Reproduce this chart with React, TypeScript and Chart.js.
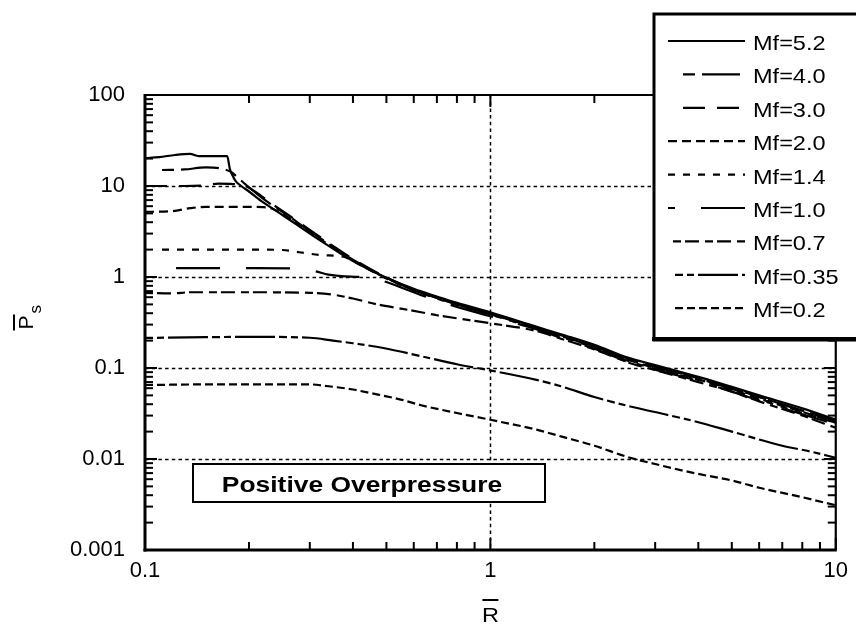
import React, { useEffect, useRef } from "react";
import { Chart, registerables } from "chart.js";

Chart.register(...registerables);

// ---------------- data ----------------
const seriesNames = ["Mf=5.2", "Mf=4.0", "Mf=3.0", "Mf=2.0", "Mf=1.4", "Mf=1.0", "Mf=0.7", "Mf=0.35", "Mf=0.2"];

const mf52: [number, number][] = [
  [0.1, 20.3], [0.11, 20.8], [0.122, 21.9], [0.135, 22.5], [0.143, 21.3], [0.173, 21.3], [0.176, 15.5],
  [0.179, 13.2], [0.183, 11.3], [0.19, 10], [0.2, 8.7], [0.22, 6.6], [0.25, 4.8], [0.3, 3.0], [0.35, 2.05],
  [0.4, 1.5], [0.5, 0.98], [0.6, 0.74], [0.7, 0.61], [0.8, 0.52], [1, 0.41], [1.3, 0.3], [1.6, 0.235],
  [2, 0.18], [2.5, 0.13], [3, 0.108], [4, 0.08], [5, 0.062], [6, 0.05], [8, 0.036], [10, 0.027],
];
const mf40: [number, number][] = [
  [0.112, 15], [0.13, 15.2], [0.15, 16], [0.165, 15.6], [0.178, 14.2], [0.185, 12.5], [0.195, 10.5],
  [0.21, 8.3], [0.23, 6.4], [0.25, 5.2], [0.3, 3.2], [0.35, 2.15], [0.4, 1.55], [0.5, 0.98], [0.6, 0.72],
  [0.7, 0.59], [0.8, 0.5], [1, 0.39], [1.3, 0.29], [1.6, 0.225], [2, 0.172], [2.5, 0.125], [3, 0.103],
  [4, 0.077], [5, 0.059], [6, 0.048], [8, 0.034], [10, 0.026],
];
const mf30: [number, number][] = [
  [0.1, 10], [0.13, 10], [0.15, 10.2], [0.163, 10.6], [0.18, 10.5], [0.195, 10], [0.21, 8.5], [0.23, 6.6],
  [0.26, 4.8], [0.3, 3.3], [0.35, 2.2], [0.4, 1.58], [0.5, 0.99], [0.6, 0.73], [0.7, 0.6], [0.8, 0.51],
  [1, 0.4], [1.3, 0.295], [1.6, 0.23], [2, 0.175], [2.5, 0.127], [3, 0.105], [4, 0.078], [5, 0.06],
  [6, 0.048], [8, 0.034], [10, 0.026],
];
const mf20: [number, number][] = [
  [0.1, 5.2], [0.12, 5.3], [0.135, 5.7], [0.15, 5.9], [0.2, 5.9], [0.22, 5.85], [0.235, 5.6], [0.25, 4.95],
  [0.3, 3.1], [0.35, 2.1], [0.4, 1.52], [0.5, 0.97], [0.6, 0.72], [0.7, 0.59], [0.8, 0.5], [1, 0.39],
  [1.3, 0.29], [1.6, 0.225], [2, 0.17], [2.5, 0.123], [3, 0.1], [4, 0.075], [5, 0.058], [6, 0.046],
  [8, 0.033], [10, 0.025],
];
const mf14: [number, number][] = [
  [0.112, 2.0], [0.15, 2.0], [0.2, 2.0], [0.25, 1.98], [0.28, 1.87], [0.32, 1.75], [0.38, 1.65], [0.4, 1.5],
  [0.5, 0.96], [0.6, 0.71], [0.7, 0.58], [0.8, 0.49], [1, 0.385], [1.3, 0.285], [1.6, 0.22], [2, 0.168],
  [2.5, 0.12], [3, 0.098], [4, 0.074], [5, 0.057], [6, 0.045], [8, 0.032], [10, 0.025],
];
const mf10: [number, number][] = [
  [0.123, 1.25], [0.2, 1.25], [0.28, 1.24], [0.31, 1.16], [0.34, 1.06], [0.37, 1.02], [0.42, 1.0],
  [0.47, 0.95], [0.5, 0.88], [0.64, 0.62], [0.8, 0.47], [1, 0.37], [1.3, 0.28], [1.6, 0.215], [2, 0.163],
  [2.5, 0.117], [3, 0.096], [4, 0.072], [5, 0.055], [6, 0.044], [8, 0.031], [10, 0.024],
];
const mf07: [number, number][] = [
  [0.1, 0.67], [0.12, 0.66], [0.135, 0.68], [0.2, 0.68], [0.3, 0.67], [0.35, 0.64], [0.4, 0.58],
  [0.47, 0.5], [0.55, 0.45], [0.63, 0.41], [0.7, 0.38], [0.85, 0.34], [1, 0.31], [1.36, 0.255],
  [1.6, 0.21], [2, 0.16], [2.6, 0.11], [3, 0.095], [4, 0.07], [5, 0.055], [6, 0.043], [8, 0.03], [10, 0.022],
];
const mf035: [number, number][] = [
  [0.1, 0.214], [0.15, 0.218], [0.2, 0.22], [0.3, 0.215], [0.35, 0.2], [0.4, 0.187], [0.49, 0.166],
  [0.645, 0.132], [0.8, 0.11], [1, 0.094], [1.36, 0.074], [1.6, 0.063], [2, 0.048], [2.6, 0.037],
  [3.2, 0.031], [3.9, 0.026], [5, 0.02], [7, 0.014], [8.5, 0.012], [10, 0.0103],
];
const mf02: [number, number][] = [
  [0.1, 0.065], [0.15, 0.066], [0.2, 0.066], [0.3, 0.066], [0.34, 0.063], [0.4, 0.058], [0.45, 0.053],
  [0.55, 0.045], [0.63, 0.039], [0.8, 0.032], [1, 0.027], [1.36, 0.021], [1.62, 0.0175], [2, 0.014],
  [2.5, 0.0105], [3, 0.0088], [3.89, 0.007], [5, 0.0058], [6.05, 0.0048], [8, 0.0038], [10, 0.0031],
];
const seriesData = [mf52, mf40, mf30, mf20, mf14, mf10, mf07, mf035, mf02];

const xTickValues = [0.1, 1, 10];
const xTickLabels = ["0.1", "1", "10"];
const yTickValues = [0.001, 0.01, 0.1, 1, 10, 100];
const yTickLabels = ["0.001", "0.01", "0.1", "1", "10", "100"];
const xGridValues = [1];
const yGridValues = [0.01, 0.1, 1, 10];
const minorMultipliers = [2, 3, 4, 5, 6, 7, 8, 9];
const boxText = "Positive Overpressure";
const xTitle = "R";
const yTitle = "P";
const yTitleSub = "s";

// ---------------- styles ----------------
const FONT = "'Liberation Sans', Arial, Helvetica, sans-serif";
const dashes: number[][] = [[], [12, 7, 38, 7], [22, 12], [9, 5], [7, 8], [44, 26], [8, 4, 14, 6], [8, 4, 7, 4, 40, 4], [8, 4]];
const legendStartX = [668, 683, 683, 668, 668, 668, 673, 675, 675];
const legendOffsets = [0, 0, 0, 0, 0, 37, 0, 0, 0];

function stretchText(ctx: CanvasRenderingContext2D, text: string, x: number, y: number, sx: number, align: CanvasTextAlign) {
  ctx.save();
  ctx.translate(x, y);
  ctx.scale(sx, 1);
  ctx.textAlign = align;
  ctx.textBaseline = "alphabetic";
  ctx.fillText(text, 0, 0);
  ctx.restore();
}

function seg(ctx: CanvasRenderingContext2D, x1: number, y1: number, x2: number, y2: number) {
  ctx.beginPath();
  ctx.moveTo(x1, y1);
  ctx.lineTo(x2, y2);
  ctx.stroke();
}

const decoPlugin = {
  id: "deco",
  beforeDatasetsDraw(chart: any) {
    const { ctx, chartArea: a, scales } = chart;
    const x = scales.x, y = scales.y;
    ctx.save();
    ctx.strokeStyle = "#000";
    ctx.lineWidth = 1.5;
    ctx.setLineDash([3.5, 3.2]);
    for (const v of yGridValues) {
      const py = Math.round(y.getPixelForValue(v)) + 0.5;
      seg(ctx, a.left, py, a.right, py);
    }
    for (const v of xGridValues) {
      const px = Math.round(x.getPixelForValue(v)) + 0.5;
      seg(ctx, px, a.top, px, a.bottom);
    }
    ctx.restore();
  },
  afterDatasetsDraw(chart: any) {
    const { ctx, chartArea: a, scales } = chart;
    const x = scales.x, y = scales.y;
    ctx.save();
    ctx.strokeStyle = "#000";
    ctx.setLineDash([]);
    ctx.lineWidth = 2;
    const majorLen = 12, minorLen = 8;
    for (const d of xTickValues) {
      for (const m of [1, ...minorMultipliers]) {
        const v = d * m;
        if (v < 0.1 - 1e-9 || v > 10 + 1e-9) continue;
        const px = x.getPixelForValue(v);
        const len = m === 1 ? majorLen : minorLen;
        seg(ctx, px, a.bottom, px, a.bottom - len);
        seg(ctx, px, a.top, px, a.top + len);
      }
    }
    for (const d of yTickValues) {
      for (const m of [1, ...minorMultipliers]) {
        const v = d * m;
        if (v < 0.001 - 1e-12 || v > 100 + 1e-9) continue;
        const py = y.getPixelForValue(v);
        const len = m === 1 ? majorLen : minorLen;
        seg(ctx, a.left, py, a.left + len, py);
        seg(ctx, a.right, py, a.right - len, py);
      }
    }
    ctx.lineWidth = 3;
    seg(ctx, a.left, a.top - 1, a.left, a.bottom + 1.5);
    seg(ctx, a.left - 1.5, a.bottom, a.right + 1, a.bottom);
    ctx.lineWidth = 2.2;
    seg(ctx, a.left, a.top, a.right + 1, a.top);
    seg(ctx, a.right, a.top, a.right, a.bottom);
    ctx.restore();
  },
  afterDraw(chart: any) {
    const { ctx, chartArea: a } = chart;
    ctx.save();
    ctx.fillStyle = "#000";
    ctx.strokeStyle = "#000";

    // "Positive Overpressure" box
    ctx.fillStyle = "#fff";
    ctx.fillRect(193, 464, 352, 38);
    ctx.lineWidth = 2;
    ctx.strokeRect(193, 464, 352, 38);
    ctx.fillStyle = "#000";
    ctx.font = `bold 22px ${FONT}`;
    stretchText(ctx, boxText, 362, 492, 1.2, "center");

    // legend box
    ctx.fillStyle = "#fff";
    ctx.fillRect(654, 14, 210, 326);
    ctx.lineWidth = 3;
    ctx.strokeRect(654, 14, 210, 326);
    ctx.lineWidth = 4;
    seg(ctx, 652, 339, 860, 339);
    ctx.fillStyle = "#000";
    ctx.font = `21px ${FONT}`;
    chart.data.datasets.forEach((ds: any, i: number) => {
      const base = 50 + i * 33.4;
      ctx.save();
      ctx.lineWidth = 2.2;
      ctx.setLineDash(ds.borderDash || []);
      ctx.lineDashOffset = legendOffsets[i];
      seg(ctx, legendStartX[i], base - 9, 745, base - 9);
      ctx.restore();
      stretchText(ctx, ds.label, 753, base, 1.12, "left");
    });

    // x title: R with overbar
    const cx = (a.left + a.right) / 2;
    ctx.font = `21px ${FONT}`;
    stretchText(ctx, xTitle, cx, 622, 1.12, "center");
    ctx.lineWidth = 2;
    seg(ctx, cx - 8, 600, cx + 8, 600);

    // y title: P with overbar and subscript s (rotated)
    const cy = (a.top + a.bottom) / 2;
    ctx.save();
    ctx.translate(33, cy);
    ctx.rotate(-Math.PI / 2);
    ctx.font = `21px ${FONT}`;
    ctx.textAlign = "center";
    ctx.textBaseline = "alphabetic";
    ctx.fillText(yTitle, 0, 0);
    ctx.lineWidth = 2;
    seg(ctx, -8, -19, 8, -19);
    ctx.font = `17px ${FONT}`;
    ctx.textAlign = "left";
    ctx.fillText(yTitleSub, 9, 8);
    ctx.restore();

    ctx.restore();
  },
};

export default function App() {
  const ref = useRef<HTMLCanvasElement | null>(null);
  useEffect(() => {
    if (!ref.current) return;
    const chart = new Chart(ref.current, {
      type: "scatter",
      data: {
        datasets: seriesData.map((d, i) => ({
          label: seriesNames[i],
          data: d.map(([x, y]) => ({ x, y })),
          showLine: true,
          borderColor: "#000",
          backgroundColor: "#000",
          borderWidth: 2.2,
          borderDash: dashes[i],
          pointRadius: 0,
          pointHoverRadius: 0,
          cubicInterpolationMode: "monotone",
          fill: false,
        })),
      },
      options: {
        responsive: false,
        animation: false,
        devicePixelRatio: 1,
        events: [],
        layout: { padding: { left: 0, right: 13, top: 95, bottom: 0 } },
        plugins: { legend: { display: false }, tooltip: { enabled: false }, title: { display: false } },
        scales: {
          x: {
            type: "logarithmic",
            min: 0.1,
            max: 10,
            grid: { display: false, drawTicks: false },
            border: { display: false },
            afterBuildTicks: (s: any) => {
              s.ticks = xTickValues.map((v) => ({ value: v }));
            },
            afterFit: (s: any) => {
              s.height = 80;
            },
            ticks: {
              autoSkip: false,
              maxRotation: 0,
              padding: 8,
              color: "#000",
              font: { family: FONT, size: 22 },
              callback: (_v: any, idx: number) => xTickLabels[idx],
            },
          },
          y: {
            type: "logarithmic",
            min: 0.001,
            max: 100,
            grid: { display: false, drawTicks: false },
            border: { display: false },
            afterBuildTicks: (s: any) => {
              s.ticks = yTickValues.map((v) => ({ value: v }));
            },
            afterFit: (s: any) => {
              s.width = 145;
            },
            ticks: {
              autoSkip: false,
              padding: 20,
              color: "#000",
              font: { family: FONT, size: 22 },
              callback: (_v: any, idx: number) => yTickLabels[idx],
            },
          },
        },
      } as any,
      plugins: [decoPlugin],
    });
    return () => chart.destroy();
  }, []);
  return (
    <div style={{ position: "absolute", left: 0, top: 0, width: 856, height: 630, background: "#fff" }}>
      <canvas ref={ref} width={856} height={630} style={{ display: "block", width: 856, height: 630 }} />
    </div>
  );
}
